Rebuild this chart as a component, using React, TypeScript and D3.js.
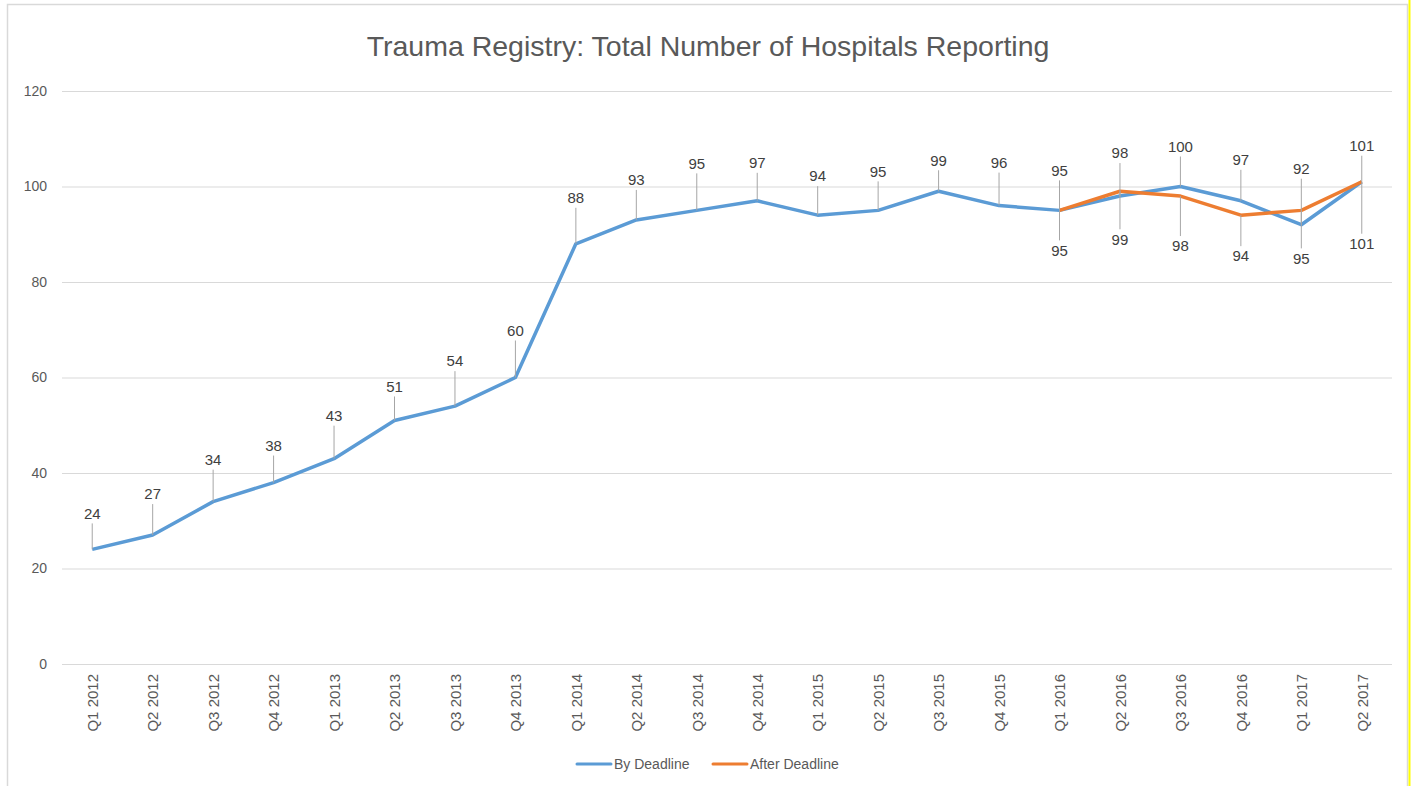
import React, { useEffect, useRef } from "react";
import * as d3 from "d3";

const quarters = [
  "Q1 2012", "Q2 2012", "Q3 2012", "Q4 2012",
  "Q1 2013", "Q2 2013", "Q3 2013", "Q4 2013",
  "Q1 2014", "Q2 2014", "Q3 2014", "Q4 2014",
  "Q1 2015", "Q2 2015", "Q3 2015", "Q4 2015",
  "Q1 2016", "Q2 2016", "Q3 2016", "Q4 2016",
  "Q1 2017", "Q2 2017",
];
const byDeadline = [24, 27, 34, 38, 43, 51, 54, 60, 88, 93, 95, 97, 94, 95, 99, 96, 95, 98, 100, 97, 92, 101];
const afterQuarters = ["Q1 2016", "Q2 2016", "Q3 2016", "Q4 2016", "Q1 2017", "Q2 2017"];
const afterDeadline = [95, 99, 98, 94, 95, 101];
const yTicks = [0, 20, 40, 60, 80, 100, 120];

// how far (px) each data label sits from its point, as Excel placed them
const byLabelDy = [36, 41, 42, 37, 43, 34, 45, 47, 46, 40, 47, 38, 39, 39, 31, 43, 40, 43, 40, 41, 56, 36];
const afterLabelDy = [40, 48, 50, 41, 48, 62];

const BLUE = "#5B9BD5";
const ORANGE = "#ED7D31";
const FONT = "'Liberation Sans', Arial, sans-serif";

export default function App() {
  const ref = useRef<SVGSVGElement>(null);

  useEffect(() => {
    const svg = d3.select(ref.current);
    svg.selectAll("*").remove();
    const W = 1411, H = 786;
    const left = 62, right = 1392, top = 91, bottom = 664;

    // chart frame
    svg.append("rect").attr("x", 7.5).attr("y", 4.5).attr("width", 1400).attr("height", H + 10)
      .attr("fill", "#fff").attr("stroke", "#d9d9d9").attr("stroke-width", 1.5);
    svg.append("line").attr("x1", 1409.5).attr("x2", 1409.5).attr("y1", 0).attr("y2", H)
      .attr("stroke", "#ffff00").attr("stroke-width", 2);

    const x = d3.scalePoint<string>().domain(quarters).range([left, right]).padding(0.5);
    const y = d3.scaleLinear().domain([0, 120]).range([bottom, top]);

    svg.append("text").attr("x", 708).attr("y", 56)
      .attr("text-anchor", "middle").attr("font-family", FONT).attr("font-size", 28.5)
      .attr("fill", "#595959").text("Trauma Registry: Total Number of Hospitals Reporting");

    // grid + y axis
    const yAxis = svg.append("g").attr("transform", `translate(${left},0)`)
      .call(d3.axisLeft(y).tickValues(yTicks).tickSize(-(right - left)).tickPadding(15));
    yAxis.select(".domain").remove();
    yAxis.selectAll(".tick line").attr("stroke", "#d9d9d9").attr("stroke-width", 1);
    yAxis.selectAll(".tick text").attr("font-family", FONT).attr("font-size", 14).attr("fill", "#595959");

    // x axis labels (rotated)
    const xAxis = svg.append("g").attr("transform", `translate(0,${bottom})`)
      .call(d3.axisBottom(x).tickSize(0));
    xAxis.select(".domain").remove();
    xAxis.selectAll(".tick text")
      .attr("font-family", FONT).attr("font-size", 15).attr("fill", "#595959")
      .attr("transform", "rotate(-90)").attr("text-anchor", "end")
      .attr("x", -10).attr("y", 0).attr("dy", "0.35em");

    const line = d3.line<[string, number]>().x((d) => x(d[0])!).y((d) => y(d[1]));
    const byPts: [string, number][] = quarters.map((q, i) => [q, byDeadline[i]]);
    const afterPts: [string, number][] = afterQuarters.map((q, i) => [q, afterDeadline[i]]);

    svg.append("path").datum(byPts).attr("d", line).attr("fill", "none")
      .attr("stroke", BLUE).attr("stroke-width", 3.5).attr("stroke-linejoin", "round");
    svg.append("path").datum(afterPts).attr("d", line).attr("fill", "none")
      .attr("stroke", ORANGE).attr("stroke-width", 3.5).attr("stroke-linejoin", "round");

    // data labels with leader lines
    const labels = svg.append("g");
    const addLabels = (pts: [string, number][], dys: number[], above: boolean) => {
      pts.forEach((p, i) => {
        const px = x(p[0])!;
        const py = y(p[1]);
        const ly = above ? py - dys[i] : py + dys[i];
        labels.append("line").attr("x1", px).attr("x2", px)
          .attr("y1", py).attr("y2", above ? ly + 10 : ly - 10)
          .attr("stroke", "#a6a6a6").attr("stroke-width", 1);
        labels.append("text").attr("x", px).attr("y", ly).attr("dy", "0.35em")
          .attr("text-anchor", "middle").attr("font-family", FONT).attr("font-size", 15)
          .attr("fill", "#404040").text(p[1]);
      });
    };
    addLabels(byPts, byLabelDy, true);
    addLabels(afterPts, afterLabelDy, false);

    // legend
    const legend = svg.append("g").attr("transform", `translate(0,764)`);
    const items = [
      { name: "By Deadline", color: BLUE, x: 577 },
      { name: "After Deadline", color: ORANGE, x: 713 },
    ];
    items.forEach((it) => {
      legend.append("line").attr("x1", it.x).attr("x2", it.x + 34).attr("y1", 0).attr("y2", 0)
        .attr("stroke", it.color).attr("stroke-width", 3).attr("stroke-linecap", "round");
      legend.append("text").attr("x", it.x + 37).attr("y", 0).attr("dy", "0.35em")
        .attr("font-family", FONT).attr("font-size", 14).attr("fill", "#595959").text(it.name);
    });

    svg.attr("width", W).attr("height", H);
  }, []);

  return (
    <svg ref={ref} width={1411} height={786}
      style={{ position: "absolute", left: 0, top: 0, background: "#fff" }} />
  );
}
